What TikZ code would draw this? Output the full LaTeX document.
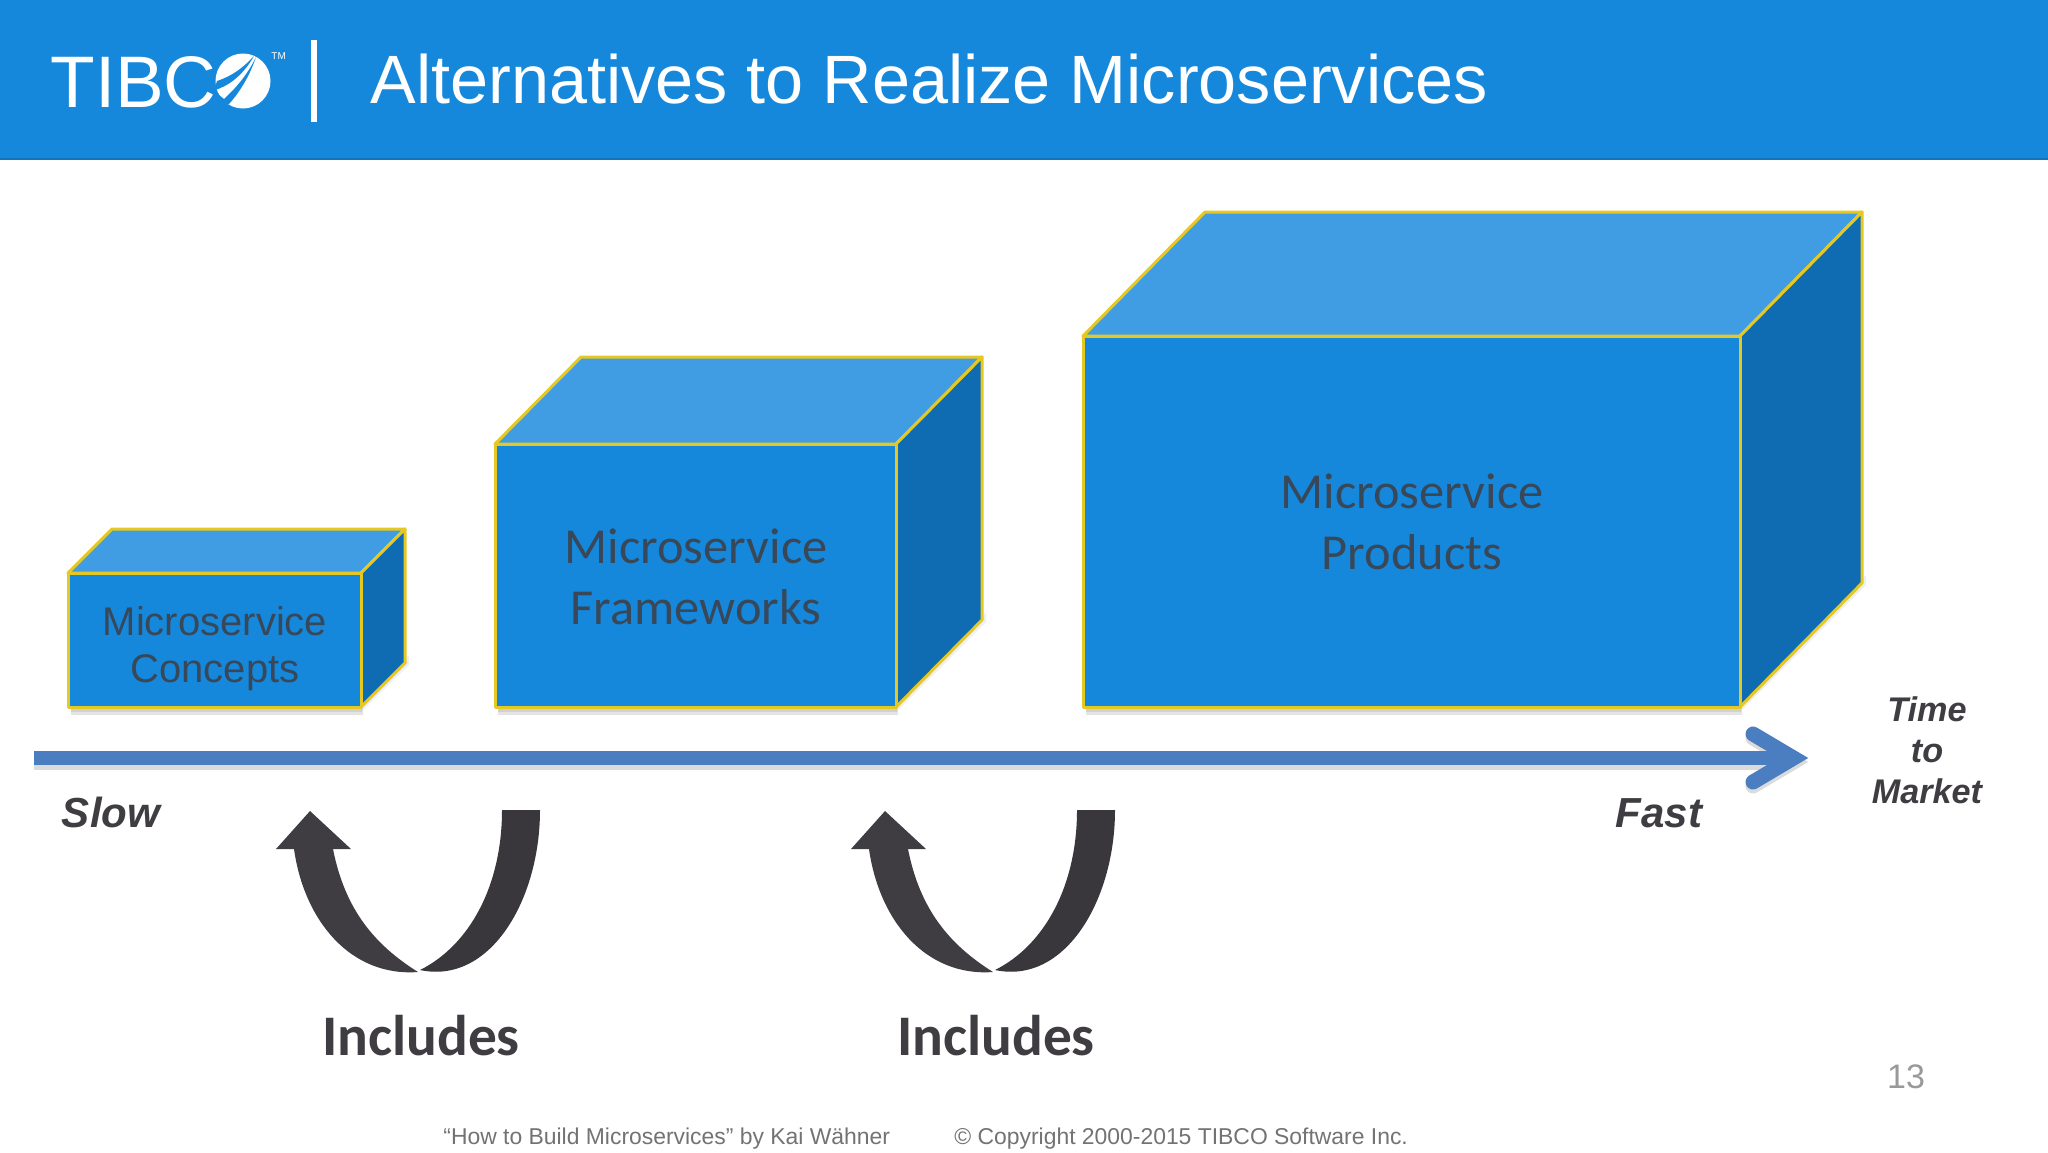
\documentclass[tikz,border=0pt]{standalone}
\usepackage{fontspec}
\setmainfont{Liberation Sans}
\newfontfamily\boxfont{Carlito}
\usepackage{tikz}
\definecolor{tibcoblue}{HTML}{1688DB}
\definecolor{boxtop}{HTML}{419DE3}
\definecolor{boxside}{HTML}{0F6CB2}
\definecolor{boxline}{HTML}{E6C823}
\definecolor{axisblue}{HTML}{4B7EC1}
\definecolor{inkgrey}{HTML}{3F3D42}

\tikzset{
    boxlabel/.style={align=center,text=inkgrey!85!tibcoblue,font=\boxfont\fontsize{25.2}{30.5}\selectfont},
    speedlabel/.style={text=inkgrey,font=\bfseries\itshape\fontsize{21}{21}\selectfont},
    marketlabel/.style={align=center,text=inkgrey,font=\bfseries\itshape\fontsize{17.1}{20.5}\selectfont},
    includeslabel/.style={text=inkgrey,font=\boxfont\bfseries\fontsize{28.7}{28.7}\selectfont},
    footlabel/.style={anchor=base west,inner sep=0pt,text=black!55,font=\fontsize{11.45}{12}\selectfont},
    boxedge/.style={draw=boxline,line width=1.5,line join=round}
}

% x0,y0 front top left / x1,y1 front bottom right / depth dx,dy
\newcommand{\solidbox}[6]{
    \fill[black!35,opacity=0.3] (#1+3,#4-3) rectangle (#3+2,#4+8);
    \fill[black!35,opacity=0.3] (#1+3,#4-3) rectangle (#3+1,#4+5);
    \fill[black!20,opacity=0.3] (#3,#4+5) -- (#3+#5+4,#4-#6+2) -- (#3+#5+4,#4-#6-8) -- (#3,#4-4) -- cycle;
    \draw[boxedge,fill=boxtop] (#1,#2) -- (#1+#5,#2-#6) -- (#3+#5,#2-#6) -- (#3,#2) -- cycle;
    \draw[boxedge,fill=boxside] (#3,#2) -- (#3+#5,#2-#6) -- (#3+#5,#4-#6) -- (#3,#4) -- cycle;
    \draw[boxedge,fill=tibcoblue] (#1,#2) rectangle (#3,#4);
}

\begin{document}
\begin{tikzpicture}[x=0.5pt,y=-0.5pt]
    \useasboundingbox (0,0) rectangle (2048,1152);
    \fill[white] (0,0) rectangle (2048,1152);
    % header
    \fill[tibcoblue] (0,0) rectangle (2048,160);
    \fill[black!15!tibcoblue] (0,157.5) rectangle (2048,160);
    \node[anchor=base west,inner sep=0pt,text=white,font=\fontsize{36.5}{36.5}\selectfont] (logotext) at (50,107) {TIBC};
    \fill[white] (243,81) circle (27.5);
    \fill[tibcoblue] (254,56) .. controls (243,68) and (232,76) .. (217,81) -- (214,90) -- (218,89) .. controls (232,84) and (245,72) .. cycle;
    \fill[tibcoblue] (256,57) .. controls (250,75) and (240,92) .. (229,104) -- (215,104) -- (219,95) -- (224,99) .. controls (236,88) and (248,74) .. cycle;
    \node[anchor=west,inner sep=0pt,text=white,font=\fontsize{5}{5}\selectfont] (trademark) at (271,56) {TM};
    \fill[white] (311,40) rectangle (317,122);
    \node[anchor=base west,inner sep=0pt,text=white,font=\fontsize{34.2}{34.2}\selectfont] (title) at (370,103) {Alternatives to Realize Microservices};
    % boxes
    \solidbox{68}{573}{361}{707}{44}{44}
    \solidbox{495}{444}{896}{707}{86}{87}
    \solidbox{1083}{336}{1740}{707}{122}{124}
    \node[boxlabel,font=\fontsize{20}{23.5}\selectfont] (concepts) at (215,649) {Microservice\\Concepts};
    \node[boxlabel] (frameworks) at (696,577) {Microservice\\Frameworks};
    \node[boxlabel] (products) at (1412,522) {Microservice\\Products};
    % time axis
    \fill[black!40,opacity=0.35] (34,756) rectangle (1772,770);
    \draw[black!40,opacity=0.35,line width=7.5,line cap=round] (1753,738) -- (1793.5,762) -- (1753,786);
    \fill[axisblue] (34,751) rectangle (1785,765);
    \draw[axisblue,line width=7.5,line cap=round] (1753,734) -- (1793.5,758) -- (1753,782);
    \node[speedlabel] (slow) at (111,812) {Slow};
    \node[speedlabel] (fast) at (1659,813) {Fast};
    \node[marketlabel] (market) at (1927,750) {Time\\to\\Market};
    % includes arrows
    \foreach \ax/\id in {0/a,575/b}{
        \fill[inkgrey] (\ax+294,849) .. controls (\ax+304,920) and (\ax+350,977) .. (\ax+418,972)
            .. controls (\ax+375,945) and (\ax+345,910) .. (\ax+333,849)
            -- (\ax+351,849) -- (\ax+310,811) -- (\ax+276,849) -- cycle;
        \fill[inkgrey!90!black] (\ax+420,970) .. controls (\ax+470,945) and (\ax+502,885) .. (\ax+502,810)
            -- (\ax+540,810) .. controls (\ax+540,900) and (\ax+490,985) .. (\ax+420,970) -- cycle;
        \node[includeslabel] (includes\id) at (\ax+421,1036) {Includes};
    }
    % footer
    \node[footlabel] (source) at (443,1144) {“How to Build Microservices” by Kai Wähner};
    \node[footlabel] (copyright) at (954,1144) {© Copyright 2000-2015 TIBCO Software Inc.};
    \node[text=black!40,font=\fontsize{17}{17}\selectfont] (pagenum) at (1906,1077) {13};
\end{tikzpicture}
\end{document}
